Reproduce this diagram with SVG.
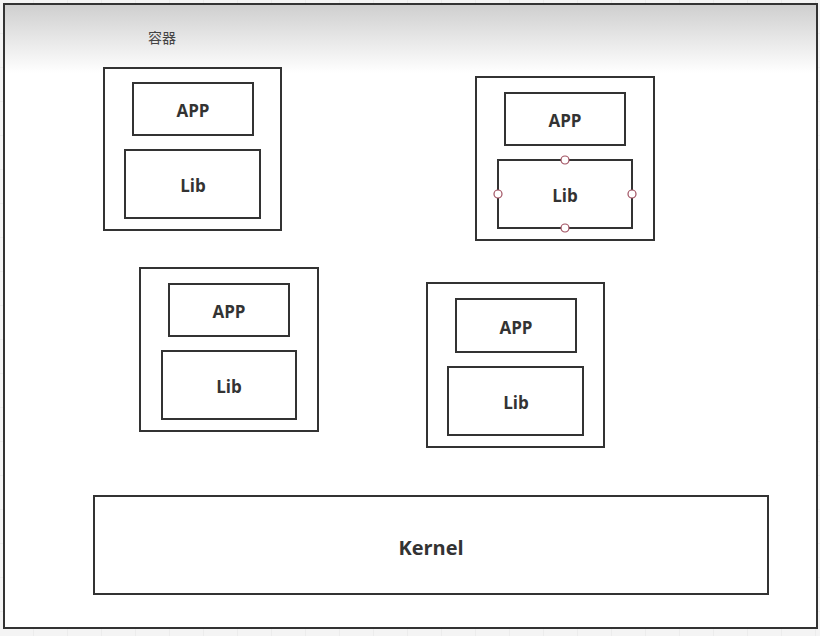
<svg xmlns="http://www.w3.org/2000/svg" width="820" height="636" viewBox="0 0 820 636">
  <defs>
    <linearGradient id="topg" x1="0" y1="0" x2="0" y2="1">
      <stop offset="0" stop-color="#cfcfcf"/>
      <stop offset="1" stop-color="#ffffff"/>
    </linearGradient>
    <pattern id="grid" width="34" height="34" patternUnits="userSpaceOnUse">
      <rect width="34" height="34" fill="#f4f4f4"/>
      <path d="M34 0V34M0 34H34" stroke="#e4e4e4" stroke-width="1" fill="none"/>
    </pattern>
  </defs>
  <style>
    .box{fill:#fff;stroke:#333;stroke-width:2}
    .lbl{font-family:"Open Sans","Noto Sans","Liberation Sans",sans-serif;font-weight:bold;font-size:17px;fill:#333;text-anchor:middle;dominant-baseline:central}
    .h{fill:#fff;stroke:#a05060;stroke-width:1.2}
  </style>
  <rect width="820" height="636" fill="url(#grid)"/>
  <g id="frame">
    <rect x="4" y="4" width="813" height="624" fill="#fff" stroke="#333" stroke-width="2"/>
    <rect x="5" y="5" width="811" height="68" fill="url(#topg)"/>
    <text x="162" y="37" font-family="'Noto Sans CJK SC',sans-serif" font-size="14" fill="#444" text-anchor="middle" dominant-baseline="central">容器</text>
  </g>
  <g id="c1">
    <rect class="box" x="104" y="68" width="177" height="162"/>
    <rect class="box" x="133" y="83" width="120" height="52"/>
    <text class="lbl" x="193" y="110">APP</text>
    <rect class="box" x="125" y="150" width="135" height="68"/>
    <text class="lbl" x="193" y="185">Lib</text>
  </g>
  <g id="c2">
    <rect class="box" x="476" y="77" width="178" height="163"/>
    <rect class="box" x="505" y="93" width="120" height="52"/>
    <text class="lbl" x="565" y="120">APP</text>
    <rect class="box" x="498" y="160" width="134" height="68"/>
    <text class="lbl" x="565" y="195">Lib</text>
    <circle class="h" cx="565" cy="160" r="4"/>
    <circle class="h" cx="498" cy="194" r="4"/>
    <circle class="h" cx="632" cy="194" r="4"/>
    <circle class="h" cx="565" cy="228" r="4"/>
  </g>
  <g id="c3">
    <rect class="box" x="140" y="268" width="178" height="163"/>
    <rect class="box" x="169" y="284" width="120" height="52"/>
    <text class="lbl" x="229" y="311">APP</text>
    <rect class="box" x="162" y="351" width="134" height="68"/>
    <text class="lbl" x="229" y="386">Lib</text>
  </g>
  <g id="c4">
    <rect class="box" x="427" y="283" width="177" height="164"/>
    <rect class="box" x="456" y="299" width="120" height="53"/>
    <text class="lbl" x="516" y="327">APP</text>
    <rect class="box" x="448" y="367" width="135" height="68"/>
    <text class="lbl" x="516" y="402">Lib</text>
  </g>
  <g id="kernel">
    <rect class="box" x="94" y="496" width="674" height="98"/>
    <text class="lbl" x="431" y="547" style="font-size:20px">Kernel</text>
  </g>
  <g id="connectors"/>
</svg>
